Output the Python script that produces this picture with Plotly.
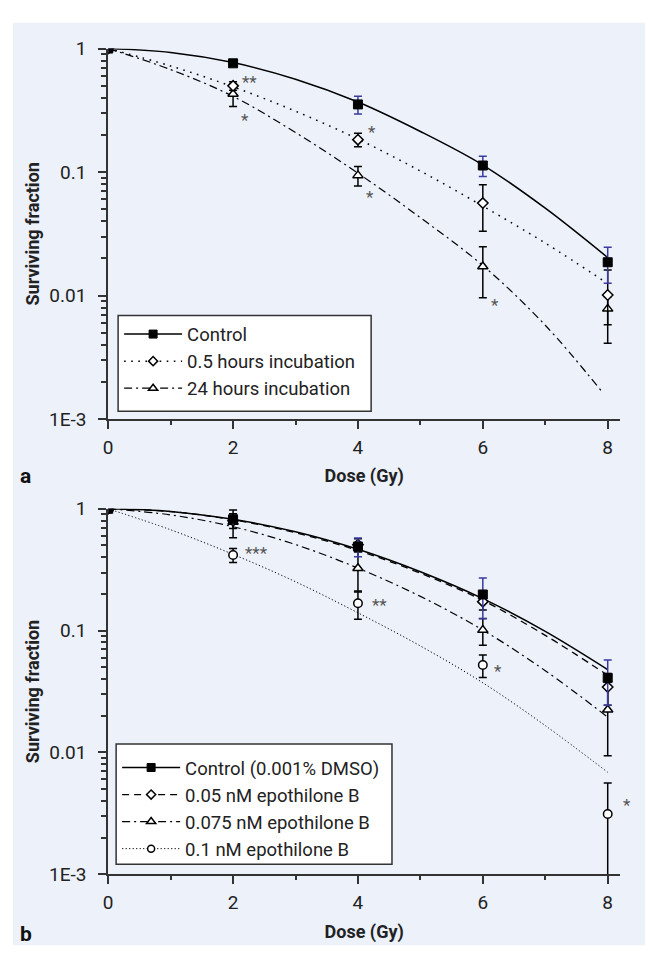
import math
import plotly.graph_objects as go

W, H = 645, 964

# ---------------- data ----------------
dose = [0, 2, 4, 6, 8]
dose_fit = [0, 1, 2, 3, 4, 5, 6, 7, 8]
dose_fit_24h = [0, 1, 2, 3, 4, 5, 6, 7, 7.91]

# Panel a
a_ctrl_sf = [1, 0.76, 0.353, 0.113, 0.0186]
a_ctrl_err = [0, 0.04, 0.058, 0.021, 0.006]
a_05h_sf = [1, 0.499, 0.183, 0.0561, 0.0101]
a_05h_err = [0, 0.04, 0.023, 0.023, 0.006]
a_24h_sf = [1, 0.429, 0.094, 0.0172, 0.0078]
a_24h_err = [0, 0.09, 0.017, 0.0076, 0.002]
a_ctrl_fit = [1, 0.93, 0.77, 0.565, 0.369, 0.213, 0.114, 0.051, 0.0203]
a_05h_fit = [1, 0.723, 0.49, 0.311, 0.185, 0.102, 0.053, 0.0266, 0.0125]
a_24h_fit = [1, 0.676, 0.41, 0.209, 0.098, 0.0427, 0.0175, 0.00575, 0.00166]
a_names = ["Control", "0.5 hours incubation", "24 hours incubation"]
a_sig_x = [2.26, 2.19, 4.23, 4.2, 6.2]
a_sig_y = [0.564, 0.281, 0.224, 0.066, 0.00893]
a_sig_text = ["**", "*", "*", "*", "*"]

# Panel b
b_ctrl_sf = [1, 0.82, 0.49, 0.198, 0.0409]
b_ctrl_err = [0, 0.05, 0.085, 0.073, 0.0165]
b_005_sf = [1, 0.80, 0.508, 0.173, 0.0344]
b_005_err = [0, 0.11, 0.06, 0.025, 0.010]
b_0075_sf = [1, 0.78, 0.325, 0.101, 0.0224]
b_0075_err = [0, 0.2, 0.117, 0.025, 0.013]
b_01_sf = [1, 0.418, 0.168, 0.0522, 0.00312]
b_01_err = [0, 0.055, 0.044, 0.011, 0.0025]
b_ctrl_fit = [1, 0.953, 0.82, 0.648, 0.465, 0.304, 0.183, 0.0985, 0.0478]
b_005_fit = [1, 0.95, 0.812, 0.636, 0.455, 0.296, 0.177, 0.0915, 0.043]
b_0075_fit = [1, 0.892, 0.713, 0.509, 0.326, 0.191, 0.101, 0.0469, 0.0195]
b_01_fit = [1, 0.673, 0.423, 0.252, 0.14, 0.0748, 0.0373, 0.0166, 0.00687]
b_names = ["Control (0.001% DMSO)", "0.05 nM epothilone B",
           "0.075 nM epothilone B", "0.1 nM epothilone B"]
# the last star sits right of the x = 8 column (shifted in pixels below)
b_sig_x = [2.37, 4.34, 6.24, 8]
b_sig_y = [0.455, 0.173, 0.0491, 0.00389]
b_sig_text = ["***", "**", "*", "*"]
b_sig_xshift = [0, 0, 0, 19]

y_tickvals = [1, 0.1, 0.01, 0.001]
y_ticktext = ["1", "0.1", "0.01", "1E-3"]
x_tickvals = [0, 2, 4, 6, 8]

# ---------------- styles ----------------
FONT = "Roboto"
BG = "#ECF1FA"
AX = "#333333"
ERR_BLUE = "#3a3aa0"

SOLID = "solid"
DOT_A = "1.6px,5.5px"
DASHDOT = "8px,4px,2px,4px"
DASH = "7px,5px"
DOT_B = "1.2px,2.3px"

sq = dict(symbol="square", size=9, color="black", line=dict(color="black", width=1))
dia = dict(symbol="diamond", size=8, color="white", line=dict(color="black", width=1.5))
tri = dict(symbol="triangle-up", size=9, color="white", line=dict(color="black", width=1.5))
cir = dict(symbol="circle", size=8.5, color="white", line=dict(color="black", width=1.5))

fig = go.Figure()


def add_panel(xa, ya, leg, fits, fit_x, sfs, errs, names, dashes, widths,
              markers, err_colors, leg_markers):
    # fitted curves
    for fx, fy, dsh, w in zip(fit_x, fits, dashes, widths):
        fig.add_trace(go.Scatter(
            x=fx, y=fy, mode="lines", xaxis=xa, yaxis=ya, showlegend=False,
            line=dict(color="black", width=w, dash=dsh, shape="spline",
                      smoothing=1.0), hoverinfo="skip"))
    # data points with error bars (control drawn last, on top)
    for sf, er, mk, ec in reversed(list(zip(sfs, errs, markers, err_colors))):
        fig.add_trace(go.Scatter(
            x=dose, y=sf, mode="markers", xaxis=xa, yaxis=ya, showlegend=False,
            marker=mk,
            error_y=dict(type="data", array=er, visible=True, color=ec,
                         thickness=1.5, width=4)))
    # legend entries
    for nm, dsh, w, mk in zip(names, dashes, widths, leg_markers):
        fig.add_trace(go.Scatter(
            x=[None], y=[None], mode="lines+markers", name=nm, xaxis=xa,
            yaxis=ya, legend=leg,
            line=dict(color="black", width=w, dash=dsh), marker=mk))


add_panel("x", "y", "legend",
          [a_ctrl_fit, a_05h_fit, a_24h_fit],
          [dose_fit, dose_fit, dose_fit_24h],
          [a_ctrl_sf, a_05h_sf, a_24h_sf],
          [a_ctrl_err, a_05h_err, a_24h_err],
          a_names,
          [SOLID, DOT_A, DASHDOT], [1.5, 1.5, 1.2],
          [sq, dia, tri],
          [ERR_BLUE, "black", "black"],
          [dict(sq, size=8), dict(dia, size=7), dict(tri, size=8)])

add_panel("x2", "y2", "legend2",
          [b_ctrl_fit, b_005_fit, b_0075_fit, b_01_fit],
          [dose_fit, dose_fit, dose_fit, dose_fit],
          [b_ctrl_sf, b_005_sf, b_0075_sf, b_01_sf],
          [b_ctrl_err, b_005_err, b_0075_err, b_01_err],
          b_names,
          [SOLID, DASH, DASHDOT, DOT_B], [1.5, 1.3, 1.2, 1.0],
          [sq, dia, tri, cir],
          [ERR_BLUE, "black", "black", "black"],
          [dict(sq, size=8), dict(dia, size=7), dict(tri, size=8),
           dict(cir, size=7)])


def px_x(p):
    return p / W


def px_y(p):
    return (H - p) / H


xaxis_common = dict(
    range=[0, 8.2], tickvals=x_tickvals, showline=True, linecolor=AX,
    linewidth=2, ticks="outside", ticklen=8, tickwidth=1.5, tickcolor=AX,
    showgrid=False, zeroline=False, ticklabelstandoff=2,
    tickfont=dict(family=FONT, size=19, color="#222"),
    minor=dict(ticks="outside", ticklen=4, tickwidth=1.5, tickcolor=AX,
               dtick=1, showgrid=False),
    title=dict(text="<b>Dose (Gy)</b>", standoff=12,
               font=dict(family=FONT, size=18, color="#222")),
)
yaxis_common = dict(
    type="log", range=[-3, 0], tickvals=y_tickvals, ticktext=y_ticktext,
    showline=True, linecolor=AX, linewidth=2, ticks="outside", ticklen=8,
    tickwidth=1.5, tickcolor=AX, showgrid=False, zeroline=False,
    ticklabelstandoff=8,
    tickfont=dict(family=FONT, size=19, color="#222"),
    minor=dict(ticks="outside", ticklen=5, tickwidth=1.5, tickcolor=AX,
               dtick="D1", showgrid=False),
    title=dict(text="<b>Surviving fraction</b>", standoff=5,
               font=dict(family=FONT, size=18, color="#222")),
)

x_dom = [px_x(104), px_x(620)]

legend_common = dict(xanchor="left", yanchor="top",
                     bgcolor="rgba(0,0,0,0)", borderwidth=0,
                     itemwidth=58, traceorder="normal",
                     font=dict(family=FONT, size=18.5, color="#222"))

fig.update_layout(
    width=W, height=H, margin=dict(l=0, r=0, t=0, b=0),
    paper_bgcolor="white", plot_bgcolor="rgba(0,0,0,0)",
    font=dict(family=FONT, color="#222"),
    xaxis=dict(xaxis_common, domain=x_dom, anchor="y"),
    yaxis=dict(yaxis_common, domain=[px_y(418), px_y(38.5)], anchor="x"),
    xaxis2=dict(xaxis_common, domain=x_dom, anchor="y2"),
    yaxis2=dict(yaxis_common, domain=[px_y(884.3), px_y(510)], anchor="x2"),
    legend=dict(legend_common, x=px_x(115), y=px_y(312)),
    legend2=dict(legend_common, x=px_x(113), y=px_y(756)),
    shapes=[
        dict(type="rect", xref="paper", yref="paper",
             x0=px_x(8), x1=1, y0=px_y(957), y1=px_y(12),
             fillcolor=BG, line=dict(width=0), layer="below"),
        dict(type="rect", xref="paper", yref="paper",
             x0=px_x(114), x1=px_x(369), y0=px_y(410), y1=px_y(312),
             fillcolor="white", line=dict(color=AX, width=1.5), layer="above"),
        dict(type="rect", xref="paper", yref="paper",
             x0=px_x(112), x1=px_x(390), y0=px_y(874), y1=px_y(751),
             fillcolor="white", line=dict(color=AX, width=1.5), layer="above"),
    ],
)

annotations = []
for xs, ys, ts, shifts, xa, ya in [
        (a_sig_x, a_sig_y, a_sig_text, [0] * len(a_sig_x), "x", "y"),
        (b_sig_x, b_sig_y, b_sig_text, b_sig_xshift, "x2", "y2")]:
    for x, y, t, s in zip(xs, ys, ts, shifts):
        annotations.append(dict(
            x=x, y=math.log10(y), xref=xa, yref=ya, text=t, showarrow=False,
            xanchor="center", yanchor="middle", yshift=-3, xshift=s,
            font=dict(family=FONT, size=17, color="#555")))
annotations.append(dict(x=px_x(13), y=px_y(476), xref="paper", yref="paper",
                        text="<b>a</b>", showarrow=False, xanchor="left",
                        yanchor="middle",
                        font=dict(family=FONT, size=21, color="#111")))
annotations.append(dict(x=px_x(13), y=px_y(946), xref="paper", yref="paper",
                        text="<b>b</b>", showarrow=False, xanchor="left",
                        yanchor="middle",
                        font=dict(family=FONT, size=21, color="#111")))
fig.update_layout(annotations=annotations)

fig.write_html("out.html")
